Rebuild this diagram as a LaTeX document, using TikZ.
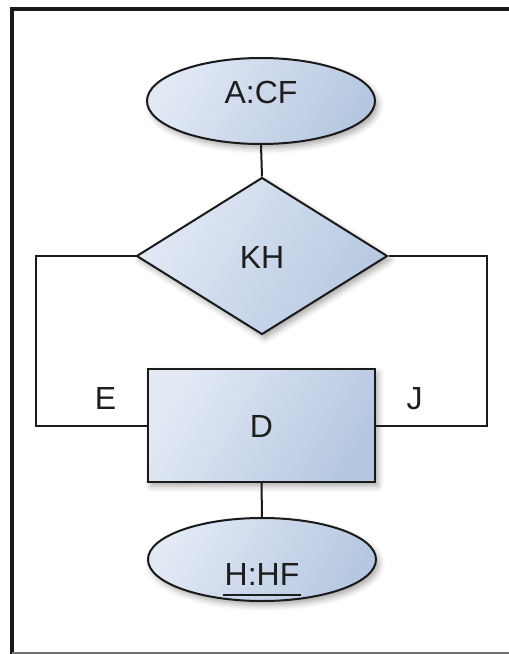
\documentclass[tikz,border=0pt]{standalone}
\usepackage{fontspec}
\setmainfont{Liberation Sans}
\usetikzlibrary{shapes.geometric,shadows.blur}

\definecolor{fillhi}{HTML}{E2E9F5}
\definecolor{filllo}{HTML}{B6C8E1}
\definecolor{edge}{HTML}{1A1A1A}
\definecolor{ink}{HTML}{1E1E1E}

\tikzset{
  shapebase/.style={draw=edge, line width=2pt, inner sep=0pt,
    top color=fillhi, bottom color=filllo, shading angle=60,
    blur shadow={shadow xshift=3pt, shadow yshift=-4pt,
      shadow blur radius=6pt, shadow opacity=35}},
  termbox/.style={shapebase, ellipse, minimum width=228pt, minimum height=86pt},
  decbox/.style={shapebase, diamond, aspect=1.6, minimum width=251pt, minimum height=157pt},
  procbox/.style={shapebase, rectangle, minimum width=227pt, minimum height=113pt},
  txt/.style={inner sep=0pt, text=ink, font=\fontsize{32}{36}\selectfont},
  wire/.style={draw=edge, line width=2pt},
}

\begin{document}
\begin{tikzpicture}[x=1pt, y=-1pt]
  \useasboundingbox (0,0) rectangle (509,654);

  % frame
  \draw[line width=4pt, draw=edge] (11.5,654) -- (11.5,9) -- (509,9);
  \draw[line width=2pt, draw=black!55] (11.5,653) -- (509,653);

  % shapes
  \node[termbox] (a) at (261,101) {};
  \node[decbox]  (k) at (262,256) {};
  \node[procbox] (d) at (261.5,425.5) {};
  \node[termbox, minimum height=83pt] (h) at (262,559.5) {};

  % corner points of the side loops
  \coordinate (lx) at (36,340);
  \coordinate (rx) at (487,340);

  % connectors
  \draw[wire] (a.south) -- (k.north);
  \draw[wire] (k.west) -| (lx) |- (d.west);
  \draw[wire] (k.east) -| (rx) |- (d.east);
  \draw[wire] (d.south) -- (h.north);

  % texts
  \node[txt] (at) at (261,92.5) {A:CF};
  \node[txt] (kt) at (262,257.5) {KH};
  \node[txt] (dt) at (261.5,426) {D};
  \node[txt] (ht) at (262,574.5) {H:HF};
  \draw[line width=2pt, draw=ink] ([xshift=-1.5pt, yshift=-9pt]ht.south west)
    -- ([xshift=1.5pt, yshift=-9pt]ht.south east);
  \node[txt] (e) at (105.5,398.5) {E};
  \node[txt] (j) at (414.5,398.5) {J};
\end{tikzpicture}
\end{document}
